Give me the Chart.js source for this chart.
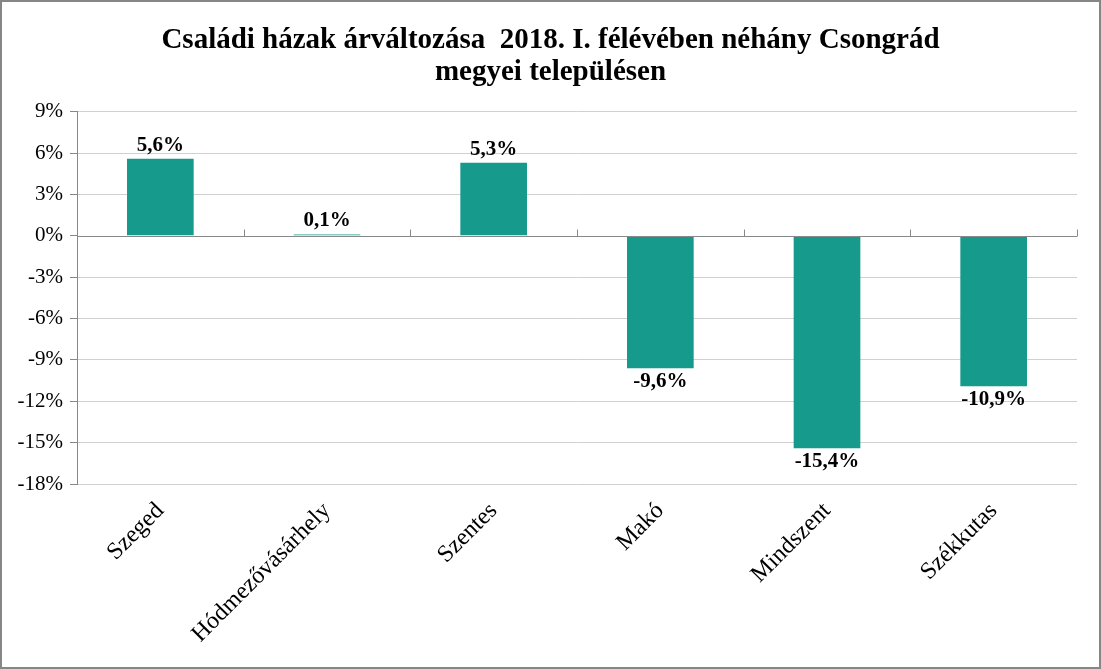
<!DOCTYPE html>
<html lang="hu">
<head>
<meta charset="UTF-8">
<title>Családi házak árváltozása</title>
<script src="https://cdn.jsdelivr.net/npm/chart.js"></script>
<style>
  body { margin: 0; padding: 0; background: #ffffff; }
  canvas { display: block; }
</style>
</head>
<body>
<canvas id="chart" width="1101" height="669"></canvas>
<script>
// adatok
var telepulesek = ['Szeged', 'Hódmezővásárhely', 'Szentes', 'Makó', 'Mindszent', 'Székkutas'];
var valtozas = [5.6, 0.1, 5.3, -9.6, -15.4, -10.9];
var cimSorok = ['Családi házak árváltozása  2018. I. félévében néhány Csongrád', 'megyei településen'];

var serif = "'Liberation Serif', 'Times New Roman', serif";

function szazalek(v) {
  return v.toFixed(1).replace('.', ',') + '%';
}

// keret a kép körül
var keret = {
  id: 'keret',
  beforeDraw: function(chart) {
    var ctx = chart.ctx;
    ctx.save();
    ctx.fillStyle = '#ffffff';
    ctx.fillRect(0, 0, chart.width, chart.height);
    ctx.strokeStyle = '#868686';
    ctx.lineWidth = 2;
    ctx.strokeRect(1, 1, chart.width - 2, chart.height - 2);
    ctx.restore();
  }
};

// 0%-os vonal és kis osztásjelek a kategóriák között
var nullaVonal = {
  id: 'nullaVonal',
  afterDatasetsDraw: function(chart) {
    var ctx = chart.ctx;
    var y = chart.scales.y;
    var y0 = Math.round(y.getPixelForValue(0)) + 0.5;
    ctx.save();
    ctx.strokeStyle = '#888888';
    ctx.lineWidth = 1;
    ctx.beginPath();
    ctx.moveTo(chart.chartArea.left, y0);
    ctx.lineTo(chart.chartArea.right, y0);
    var step = (chart.chartArea.right - chart.chartArea.left) / telepulesek.length;
    for (var i = 1; i <= telepulesek.length; i++) {
      var xx = Math.round(chart.chartArea.left + step * i) + 0.5;
      ctx.moveTo(xx, y0);
      ctx.lineTo(xx, y0 - 7);
    }
    ctx.stroke();
    ctx.restore();
  }
};

// értékcímkék
var ertekCimkek = {
  id: 'ertekCimkek',
  afterDatasetsDraw: function(chart) {
    var ctx = chart.ctx;
    var meta = chart.getDatasetMeta(0);
    ctx.save();
    ctx.font = 'bold 21px ' + serif;
    ctx.fillStyle = '#000000';
    ctx.textAlign = 'center';
    meta.data.forEach(function(bar, i) {
      var v = valtozas[i];
      if (v >= 0) {
        ctx.textBaseline = 'bottom';
        ctx.fillText(szazalek(v), bar.x, bar.y - 3);
      } else {
        ctx.textBaseline = 'top';
        ctx.fillText(szazalek(v), bar.x, bar.y + 3);
      }
    });
    ctx.restore();
  }
};

new Chart(document.getElementById('chart'), {
  type: 'bar',
  data: {
    labels: telepulesek,
    datasets: [{
      data: valtozas,
      backgroundColor: '#159A8C',
      borderWidth: 0,
      barPercentage: 0.4,
      categoryPercentage: 1.0
    }]
  },
  options: {
    responsive: false,
    animation: false,
    layout: { padding: 0 },
    plugins: {
      legend: { display: false },
      tooltip: { enabled: false },
      title: {
        display: true,
        text: cimSorok,
        color: '#000000',
        font: { family: serif, size: 29, weight: 'bold', lineHeight: 1.1 },
        padding: { top: 25, bottom: 23 }
      }
    },
    scales: {
      x: {
        grid: { display: false },
        border: { display: false },
        ticks: {
          color: '#000000',
          font: { family: serif, size: 24 },
          minRotation: 45,
          maxRotation: 45,
          padding: 5
        },
        afterFit: function(s) { s.height = 185; }
      },
      y: {
        min: -18,
        max: 9,
        ticks: {
          stepSize: 3,
          color: '#000000',
          font: { family: serif, size: 21 },
          padding: 7,
          callback: function(v) { return v + '%'; }
        },
        grid: {
          color: function(c) { return c.tick && c.tick.value === 0 ? 'rgba(0,0,0,0)' : '#d0d0d0'; },
          tickColor: '#888888',
          tickLength: 7
        },
        border: { display: true, color: '#888888', width: 1 },
        afterFit: function(s) { s.width = 77; }
      },
      // üres jobb oldali sáv, hogy a diagram ne érjen a keretig
      jobb: {
        type: 'linear',
        position: 'right',
        display: true,
        grid: { display: false },
        border: { display: false },
        ticks: { display: false },
        afterFit: function(s) { s.width = 24; }
      }
    }
  },
  plugins: [keret, nullaVonal, ertekCimkek]
});
</script>
</body>
</html>
